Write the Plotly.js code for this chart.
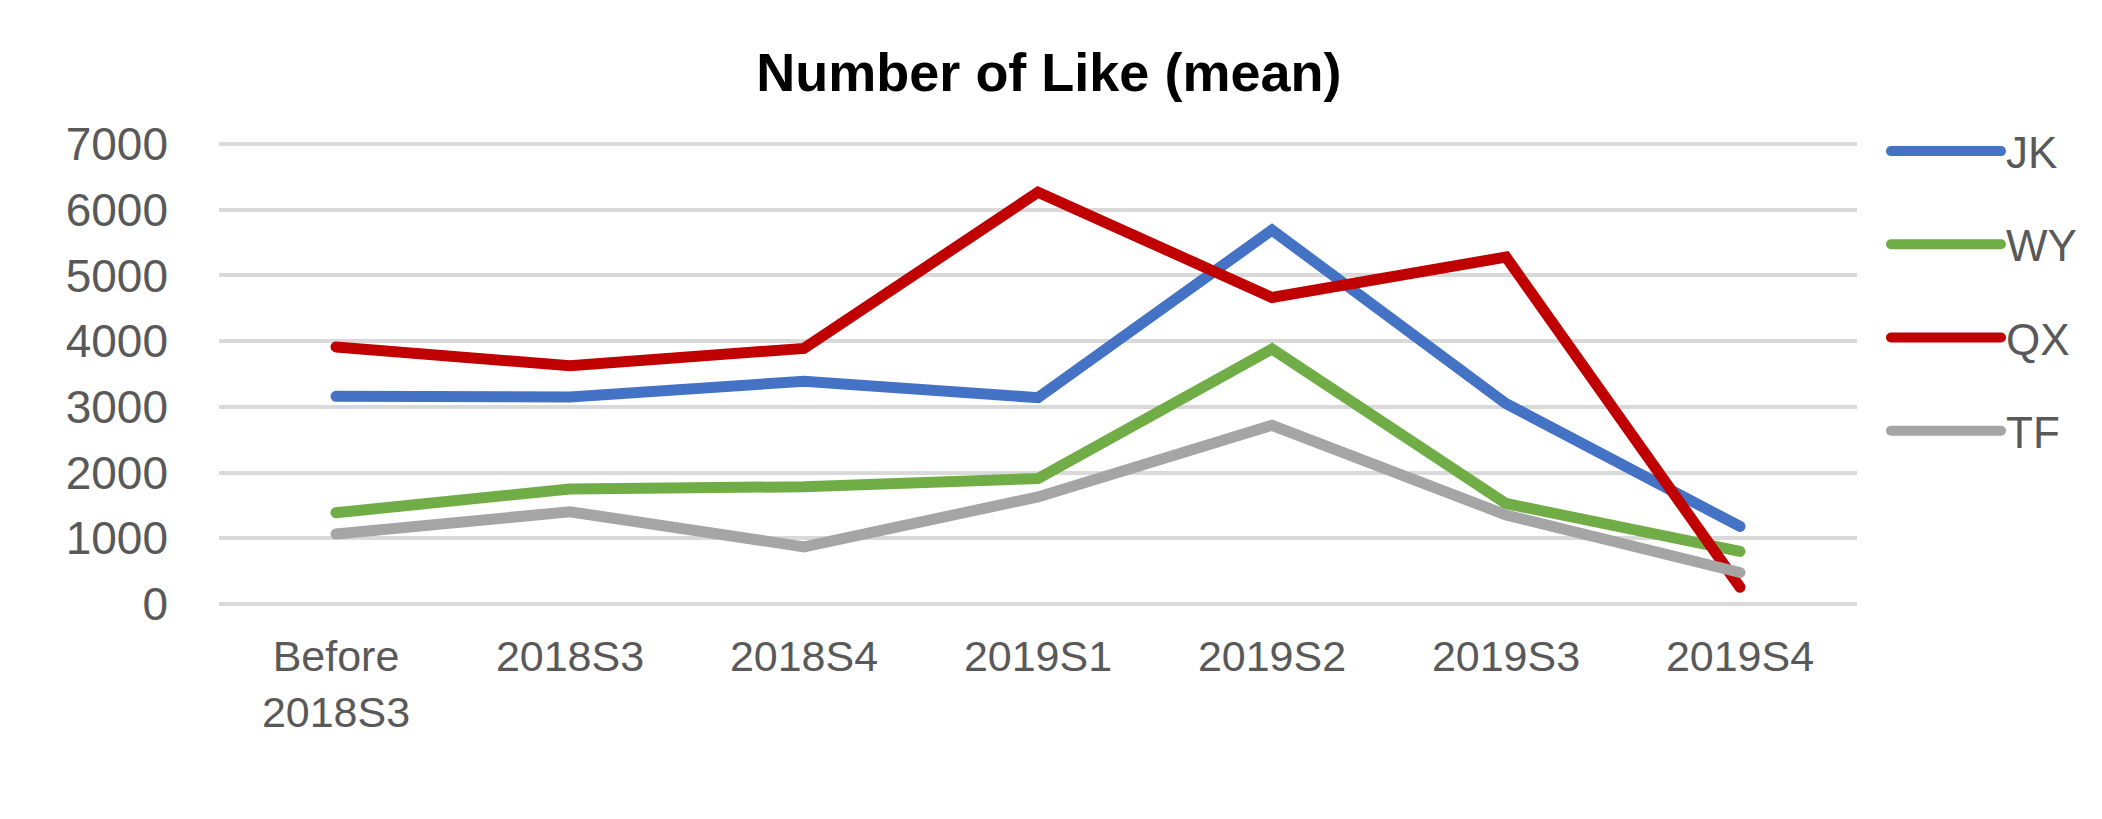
<!DOCTYPE html>
<html>
<head>
<meta charset="utf-8">
<script src="https://cdn.plot.ly/plotly-3.0.1.min.js"></script>
<style>
  html, body { margin: 0; padding: 0; background: #ffffff; }
  #chart { width: 2102px; height: 819px; }
  .scatterlayer .js-line, .legendlines path { stroke-linecap: round; }
</style>
</head>
<body>
<div id="chart"></div>
<script>
const categories = ['Before 2018S3', '2018S3', '2018S4', '2019S1', '2019S2', '2019S3', '2019S4'];
const tickLabels = ['Before<br>2018S3', '2018S3', '2018S4', '2019S1', '2019S2', '2019S3', '2019S4'];
const seriesNames = ['JK', 'WY', 'QX', 'TF'];
const jk = [3160, 3150, 3390, 3140, 5690, 3050, 1180];
const wy = [1390, 1750, 1785, 1910, 3880, 1530, 800];
const qx = [3910, 3625, 3890, 6265, 4665, 5280, 255];
const tf = [1065, 1405, 870, 1630, 2720, 1355, 480];
const seriesColors = ['#4472C4', '#70AD47', '#C00000', '#A5A5A5'];
const seriesValues = [jk, wy, qx, tf];
const yTicks = [0, 1000, 2000, 3000, 4000, 5000, 6000, 7000];

const traces = seriesNames.map((name, i) => ({
  type: 'scatter',
  mode: 'lines',
  name: name,
  legendgroup: name,
  x: categories,
  y: seriesValues[i],
  line: { color: seriesColors[i], width: 11 },
  hoverinfo: 'skip'
}));

const layout = {
  width: 2102,
  height: 819,
  paper_bgcolor: '#ffffff',
  plot_bgcolor: '#ffffff',
  margin: { l: 219, r: 245, t: 141, b: 212, pad: 0 },
  title: {
    text: '<b>Number of Like (mean)</b>',
    font: { family: 'Liberation Sans, Arial, sans-serif', size: 54, color: '#000000' },
    x: 0.499, xref: 'container', xanchor: 'center',
    y: 1 - 72 / 819, yref: 'container', yanchor: 'middle'
  },
  xaxis: {
    type: 'category',
    categoryorder: 'array',
    categoryarray: categories,
    tickvals: categories,
    ticktext: tickLabels,
    range: [-0.5, 6.5],
    showgrid: false,
    zeroline: false,
    showline: false,
    ticks: '',
    ticklabelstandoff: 20,
    tickfont: { family: 'Liberation Sans, Arial, sans-serif', size: 43, color: '#595959' }
  },
  yaxis: {
    range: [-45, 7045],
    tickvals: yTicks,
    ticktext: yTicks.map(String),
    showgrid: true,
    gridcolor: '#D9D9D9',
    gridwidth: 4,
    zeroline: false,
    showline: false,
    ticks: '',
    ticklabelstandoff: 50,
    tickfont: { family: 'Liberation Sans, Arial, sans-serif', size: 46, color: '#595959' }
  },
  showlegend: true,
  legend: {
    xref: 'container', yref: 'container',
    x: 1886 / 2102, xanchor: 'left',
    y: 1 - 116 / 819, yanchor: 'top',
    bgcolor: 'rgba(0,0,0,0)',
    borderwidth: 0,
    tracegroupgap: 33,
    itemwidth: 110,
    font: { family: 'Liberation Sans, Arial, sans-serif', size: 44, color: '#595959' }
  }
};

Plotly.newPlot('chart', traces, layout, { staticPlot: true, displayModeBar: false });
</script>
</body>
</html>
